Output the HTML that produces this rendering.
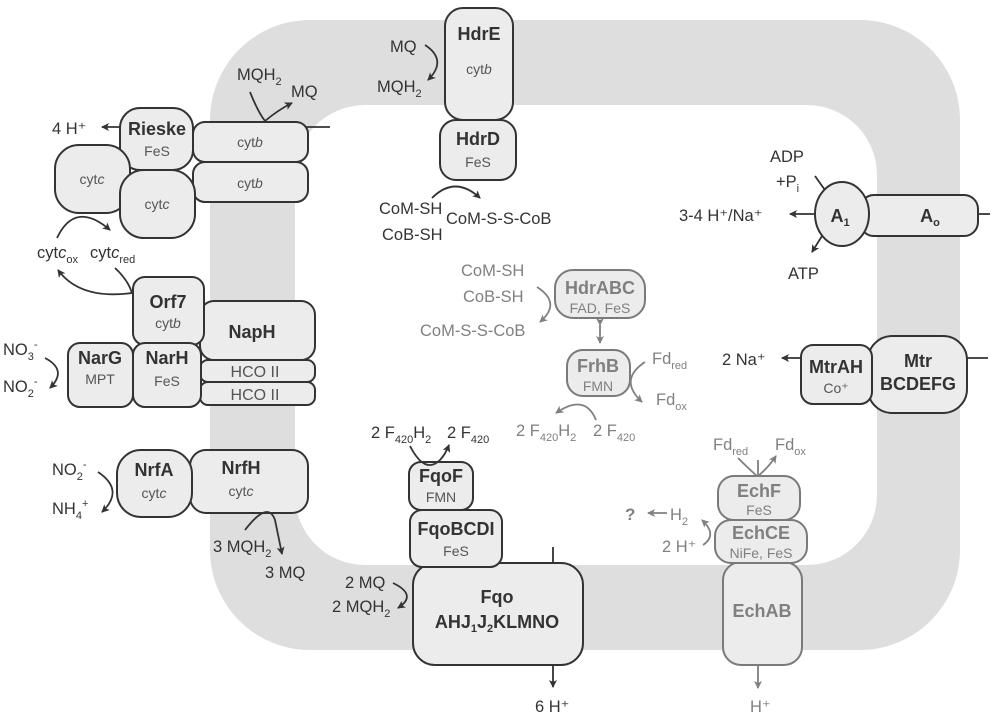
<!DOCTYPE html>
<html><head><meta charset="utf-8"><style>
html,body{margin:0;padding:0;background:#fff}
svg{display:block}
text{font-family:"Liberation Sans",sans-serif;fill:#333}
.n{font-weight:bold;font-size:18px;text-anchor:middle}
.c{font-size:14px;text-anchor:middle;fill:#555}
.l{font-size:16.5px}
.s{font-size:11px}
.g text,.g .n,.g .c{fill:#808080}
.b{fill:#ececec;stroke:#333;stroke-width:2}
.g .b{stroke:#7a7a7a}
.a{fill:none;stroke:#333;stroke-width:1.8}
.g .a{stroke:#808080}
</style></head><body>
<svg width="1000" height="716" viewBox="0 0 1000 716" xmlns="http://www.w3.org/2000/svg">
<defs>
<marker id="m" markerWidth="10" markerHeight="10" refX="7" refY="4" orient="auto" markerUnits="userSpaceOnUse"><path d="M0,0 L8,4 L0,8 L2,4z" fill="#333"/></marker>
<marker id="mg" markerWidth="10" markerHeight="10" refX="7" refY="4" orient="auto" markerUnits="userSpaceOnUse"><path d="M0,0 L8,4 L0,8 L2,4z" fill="#808080"/></marker>
</defs>
<path fill="#dedede" fill-rule="evenodd" d="M310,20 H860 A100,100 0 0 1 960,120 V550 A100,100 0 0 1 860,650 H310 A100,100 0 0 1 210,550 V120 A100,100 0 0 1 310,20 Z M365,105 H807 A70,70 0 0 1 877,175 V495 A70,70 0 0 1 807,565 H365 A70,70 0 0 1 295,495 V175 A70,70 0 0 1 365,105 Z"/>

<line x1="300" y1="127" x2="330" y2="127" stroke="#333" stroke-width="1.8"/>
<line x1="975" y1="214" x2="990" y2="214" stroke="#333" stroke-width="1.8"/>
<line x1="965" y1="358" x2="988" y2="358" stroke="#333" stroke-width="1.8"/>
<line x1="553" y1="547" x2="553" y2="565" stroke="#333" stroke-width="1.8"/>

<rect class="b" x="193" y="122" width="115" height="40" rx="12"/>
<rect class="b" x="193" y="162" width="115" height="40" rx="12"/>
<text class="c" x="250" y="147">cyt<tspan font-style="italic">b</tspan></text>
<text class="c" x="250" y="188">cyt<tspan font-style="italic">b</tspan></text>
<rect class="b" x="120" y="108" width="73" height="62" rx="20"/>
<text class="n" x="157" y="135">Rieske</text><text class="c" x="157" y="156">FeS</text>
<rect class="b" x="55" y="145" width="75" height="68" rx="24"/>
<text class="c" x="92" y="184">cyt<tspan font-style="italic">c</tspan></text>
<rect class="b" x="120" y="170" width="75" height="68" rx="24"/>
<text class="c" x="157" y="209">cyt<tspan font-style="italic">c</tspan></text>
<line class="a" x1="120" y1="127" x2="102" y2="127" marker-end="url(#m)"/>
<text class="l" x="52" y="134">4 H⁺</text>
<text class="l" x="237" y="80">MQH<tspan class="s" dy="5">2</tspan></text>
<text class="l" x="291" y="97">MQ</text>
<path class="a" d="M250,92 Q258,112 265,121 Q278,110 292,103" marker-end="url(#m)"/>
<text class="l" x="37" y="258">cyt<tspan font-style="italic">c</tspan><tspan class="s" dy="5">ox</tspan></text>
<text class="l" x="90" y="258">cyt<tspan font-style="italic">c</tspan><tspan class="s" dy="5">red</tspan></text>
<path class="a" d="M57,238 Q75,200 110,230" marker-end="url(#m)"/>
<path class="a" d="M115,268 Q128,280 132,293 Q80,300 58,270" marker-end="url(#m)"/>

<rect class="b" x="445" y="8" width="68" height="112" rx="18"/>
<text class="n" x="479" y="40">HdrE</text><text class="c" x="479" y="74">cyt<tspan font-style="italic">b</tspan></text>
<rect class="b" x="440" y="120" width="76" height="60" rx="16"/>
<text class="n" x="478" y="145">HdrD</text><text class="c" x="478" y="167">FeS</text>
<text class="l" x="390" y="52">MQ</text>
<text class="l" x="377" y="92">MQH<tspan class="s" dy="5">2</tspan></text>
<path class="a" d="M425,45 Q448,60 428,80" marker-end="url(#m)"/>
<text class="l" x="379" y="214">CoM-SH</text>
<text class="l" x="382" y="240">CoB-SH</text>
<text class="l" x="446" y="224">CoM-S-S-CoB</text>
<path class="a" d="M432,198 Q455,175 480,198" marker-end="url(#m)"/>

<rect class="b" x="860" y="195" width="118" height="41" rx="14"/>
<text class="n" x="930" y="222">A<tspan dy="4" font-size="11">o</tspan></text>
<ellipse class="b" cx="842" cy="214" rx="27" ry="32"/>
<text class="n" x="840" y="222">A<tspan dy="4" font-size="11">1</tspan></text>
<line class="a" x1="815" y1="214" x2="790" y2="214" marker-end="url(#m)"/>
<text class="l" x="679" y="221">3-4 H⁺/Na⁺</text>
<text class="l" x="770" y="162">ADP</text>
<text class="l" x="776" y="187">+P<tspan class="s" dy="5">i</tspan></text>
<text class="l" x="788" y="279">ATP</text>
<path class="a" d="M815,176 Q822,186 825,190"/>
<path class="a" d="M822,236 L812,252" marker-end="url(#m)"/>

<rect class="b" x="868" y="336" width="99" height="77" rx="24"/>
<text class="n" x="918" y="367">Mtr</text><text class="n" x="918" y="390">BCDEFG</text>
<rect class="b" x="801" y="345" width="71" height="59" rx="12"/>
<text class="n" x="836" y="373">MtrAH</text><text class="c" x="836" y="393">Co⁺</text>
<line class="a" x1="801" y1="358" x2="782" y2="358" marker-end="url(#m)"/>
<text class="l" x="722" y="365">2 Na⁺</text>

<rect class="b" x="200" y="301" width="115" height="59" rx="14"/>
<text class="n" x="252" y="338">NapH</text>
<rect class="b" x="200" y="360" width="115" height="22" rx="8"/>
<rect class="b" x="200" y="382" width="115" height="23" rx="8"/>
<text class="c" x="255" y="377" style="font-size:16px">HCO II</text>
<text class="c" x="255" y="400" style="font-size:16px">HCO II</text>
<rect class="b" x="133" y="277" width="71" height="68" rx="12"/>
<text class="n" x="168" y="308">Orf7</text><text class="c" x="168" y="328">cyt<tspan font-style="italic">b</tspan></text>
<rect class="b" x="68" y="343" width="65" height="64" rx="12"/>
<text class="n" x="100" y="364">NarG</text><text class="c" x="100" y="384">MPT</text>
<rect class="b" x="133" y="343" width="68" height="64" rx="12"/>
<text class="n" x="167" y="364">NarH</text><text class="c" x="167" y="386">FeS</text>
<text class="l" x="3" y="355">NO<tspan class="s" dy="5">3</tspan><tspan class="s" dy="-12">-</tspan></text>
<text class="l" x="3" y="392">NO<tspan class="s" dy="5">2</tspan><tspan class="s" dy="-12">-</tspan></text>
<path class="a" d="M45,358 Q68,370 50,388" marker-end="url(#m)"/>

<rect class="b" x="190" y="450" width="118" height="63" rx="16"/>
<text class="n" x="241" y="474">NrfH</text><text class="c" x="241" y="496">cyt<tspan font-style="italic">c</tspan></text>
<rect class="b" x="117" y="450" width="75" height="67" rx="24"/>
<text class="n" x="154" y="476">NrfA</text><text class="c" x="154" y="498">cyt<tspan font-style="italic">c</tspan></text>
<text class="l" x="52" y="475">NO<tspan class="s" dy="5">2</tspan><tspan class="s" dy="-12">-</tspan></text>
<text class="l" x="52" y="514">NH<tspan class="s" dy="5">4</tspan><tspan class="s" dy="-12">+</tspan></text>
<path class="a" d="M98,472 Q125,490 102,512" marker-end="url(#m)"/>
<text class="l" x="213" y="552">3 MQH<tspan class="s" dy="5">2</tspan></text>
<text class="l" x="265" y="578">3 MQ</text>
<path class="a" d="M245,530 Q268,500 275,520 L282,554" marker-end="url(#m)"/>

<rect class="b" x="413" y="563" width="170" height="102" rx="22"/>
<text class="n" x="497" y="603">Fqo</text>
<text class="n" x="497" y="628">AHJ<tspan dy="4" font-size="11">1</tspan><tspan dy="-4">J</tspan><tspan dy="4" font-size="11">2</tspan><tspan dy="-4">KLMNO</tspan></text>
<rect class="b" x="410" y="510" width="92" height="57" rx="12"/>
<text class="n" x="456" y="535">FqoBCDI</text><text class="c" x="456" y="556">FeS</text>
<rect class="b" x="409" y="462" width="64" height="48" rx="12"/>
<text class="n" x="441" y="482">FqoF</text><text class="c" x="441" y="502">FMN</text>
<text class="l" x="371" y="438">2 F<tspan class="s" dy="5">420</tspan><tspan dy="-5">H</tspan><tspan class="s" dy="5">2</tspan></text>
<text class="l" x="447" y="438">2 F<tspan class="s" dy="5">420</tspan></text>
<path class="a" d="M410,446 Q425,475 440,460 Q445,455 449,445" marker-end="url(#m)"/>
<text class="l" x="345" y="588">2 MQ</text>
<text class="l" x="332" y="612">2 MQH<tspan class="s" dy="5">2</tspan></text>
<path class="a" d="M393,583 Q418,595 398,608" marker-end="url(#m)"/>
<line class="a" x1="553" y1="665" x2="553" y2="687" marker-end="url(#m)"/>
<text class="l" x="535" y="712">6 H⁺</text>

<g class="g">
<rect class="b" x="555" y="270" width="90" height="48" rx="18"/>
<text class="n" x="600" y="294">HdrABC</text><text class="c" x="600" y="313">FAD, FeS</text>
<rect class="b" x="567" y="350" width="63" height="46" rx="16"/>
<text class="n" x="598" y="372">FrhB</text><text class="c" x="598" y="391">FMN</text>
<line class="a" x1="600" y1="325" x2="600" y2="343" marker-end="url(#mg)" marker-start="url(#mg)"/>
<text class="l" x="461" y="276">CoM-SH</text>
<text class="l" x="463" y="302">CoB-SH</text>
<text class="l" x="420" y="336">CoM-S-S-CoB</text>
<path class="a" d="M537,287 Q562,303 540,322" marker-end="url(#mg)"/>
<text class="l" x="652" y="364">Fd<tspan class="s" dy="5">red</tspan></text>
<text class="l" x="656" y="405">Fd<tspan class="s" dy="5">ox</tspan></text>
<path class="a" d="M645,362 Q618,380 642,402" marker-end="url(#mg)"/>
<text class="l" x="516" y="436">2 F<tspan class="s" dy="5">420</tspan><tspan dy="-5">H</tspan><tspan class="s" dy="5">2</tspan></text>
<text class="l" x="593" y="436">2 F<tspan class="s" dy="5">420</tspan></text>
<path class="a" d="M596,420 Q585,393 556,413" marker-end="url(#mg)"/>
<rect class="b" x="723" y="562" width="79" height="103" rx="18"/>
<text class="n" x="762" y="617">EchAB</text>
<rect class="b" x="715" y="520" width="92" height="43" rx="16"/>
<text class="n" x="761" y="539">EchCE</text><text class="c" x="761" y="558">NiFe, FeS</text>
<rect class="b" x="718" y="476" width="82" height="44" rx="16"/>
<text class="n" x="759" y="497">EchF</text><text class="c" x="759" y="515">FeS</text>
<text class="l" x="713" y="450">Fd<tspan class="s" dy="5">red</tspan></text>
<text class="l" x="775" y="450">Fd<tspan class="s" dy="5">ox</tspan></text>
<path class="a" d="M738,458 Q748,468 757,476"/>
<path class="a" d="M758,460 L758,476 M758,476 Q768,468 776,456" marker-end="url(#mg)"/>
<text x="625" y="520" style="font-weight:bold;font-size:17px">?</text>
<line class="a" x1="667" y1="513" x2="648" y2="513" marker-end="url(#mg)"/>
<text class="l" x="670" y="520">H<tspan class="s" dy="5">2</tspan></text>
<text class="l" x="662" y="552">2 H⁺</text>
<path class="a" d="M703,545 Q718,535 702,520" marker-end="url(#mg)"/>
<line class="a" x1="758" y1="665" x2="758" y2="688" marker-end="url(#mg)"/>
<text class="l" x="750" y="712">H⁺</text>
</g>
</svg>
</body></html>
